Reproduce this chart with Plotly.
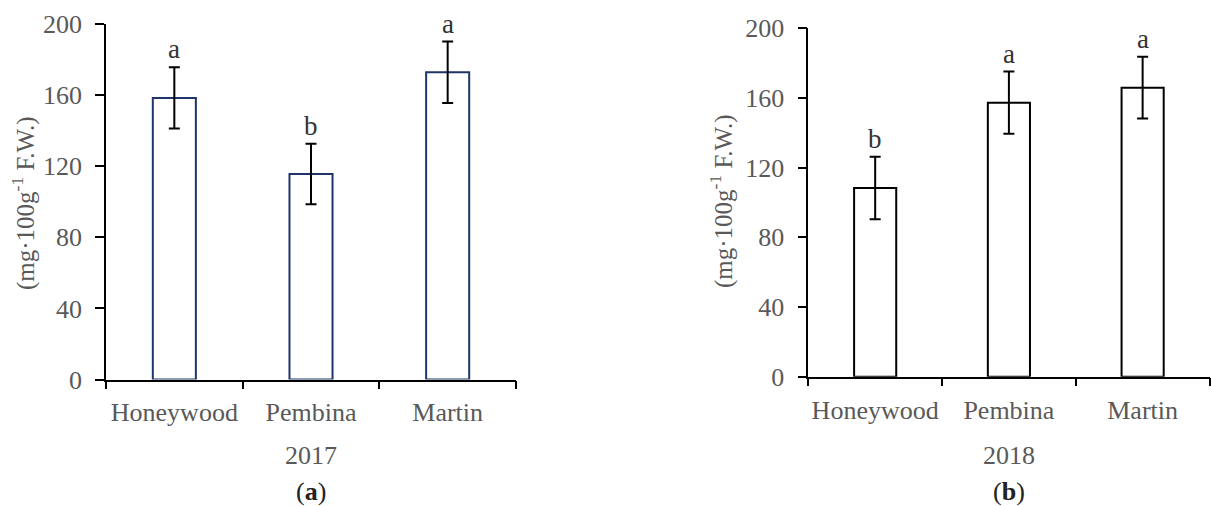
import plotly.graph_objects as go

# Fruit content by cultivar, two seasons (mean ± error)
cultivars = ["Honeywood", "Pembina", "Martin"]

means_2017 = [158.4, 115.6, 172.8]
err_2017 = [17.2, 17.0, 17.3]
letters_2017 = ["a", "b", "a"]

means_2018 = [108.3, 157.3, 165.9]
err_2018 = [17.9, 17.9, 17.7]
letters_2018 = ["b", "a", "a"]

y_ticks = [0, 40, 80, 120, 160, 200]

FONT = "Liberation Serif"
GRAY = "#595959"
W, H = 1211, 506

fig = go.Figure()

panels = [
    dict(means=means_2017, err=err_2017, letters=letters_2017, year="2017", tag="a",
         outline="#1F3468", xa="x", ya="y", xdom=[106 / W, 516 / W],
         ydom=[1 - 379.5 / H, 1 - 24 / H], title_x=23 / W, title_y=1 - 204 / H),
    dict(means=means_2018, err=err_2018, letters=letters_2018, year="2018", tag="b",
         outline="#000000", xa="x2", ya="y2", xdom=[808.3 / W, 1209.5 / W],
         ydom=[1 - 376.7 / H, 1 - 28.3 / H], title_x=721 / W, title_y=1 - 202 / H),
]

annotations = []
for i, p in enumerate(panels):
    fig.add_trace(go.Bar(
        x=cultivars, y=p["means"], width=0.315,
        marker=dict(color="white", line=dict(color=p["outline"], width=2)),
        error_y=dict(type="data", array=p["err"], visible=True,
                     color="black", thickness=2, width=5.5),
        xaxis=p["xa"], yaxis=p["ya"], showlegend=False, hoverinfo="skip",
    ))
    suffix = "" if i == 0 else "2"
    # significance letters above the error bars
    for c, m, e, l in zip(cultivars, p["means"], p["err"], p["letters"]):
        annotations.append(dict(
            x=c, y=m + e, xref="x" + suffix, yref="y" + suffix,
            text=l, showarrow=False, yanchor="bottom", yshift=1,
            font=dict(family=FONT, size=27, color="#333333"),
        ))
    xc = (p["xdom"][0] + p["xdom"][1]) / 2
    annotations.append(dict(
        x=xc, y=1 - 455 / H, xref="paper", yref="paper", text=p["year"],
        showarrow=False, font=dict(family=FONT, size=26, color=GRAY),
        xanchor="center", yanchor="middle",
    ))
    annotations.append(dict(
        x=xc, y=1 - 491 / H, xref="paper", yref="paper",
        text="(<b>%s</b>)" % p["tag"],
        showarrow=False, font=dict(family=FONT, size=26, color="#222222"),
        xanchor="center", yanchor="middle",
    ))
    annotations.append(dict(
        x=p["title_x"], y=p["title_y"],
        xref="paper", yref="paper",
        text="(mg·100g<sup>-1</sup> F.W.)", textangle=-90,
        showarrow=False, font=dict(family=FONT, size=25, color=GRAY),
        xanchor="center", yanchor="middle",
    ))

    xaxis = dict(
        domain=p["xdom"], anchor=p["ya"], type="category", automargin=False,
        range=[-0.5, 2.5], tickson="boundaries", ticks="outside",
        ticklen=8, tickwidth=1.5, tickcolor="black", tickangle=0,
        showline=True, linecolor="black", linewidth=1.5,
        showgrid=False, zeroline=False,
        tickfont=dict(family=FONT, size=26, color=GRAY),
        ticklabelstandoff=9,
    )
    yaxis = dict(
        domain=p["ydom"], anchor=p["xa"], range=[0, 200], automargin=False,
        tickvals=y_ticks, ticks="outside", ticklen=9, tickwidth=1.5,
        tickcolor="black", showline=True, linecolor="black", linewidth=1.5,
        showgrid=False, zeroline=False,
        tickfont=dict(family=FONT, size=26, color=GRAY),
        ticklabelstandoff=8,
    )
    fig.update_layout(**{"xaxis" + suffix: xaxis, "yaxis" + suffix: yaxis})

fig.update_layout(
    width=W, height=H, margin=dict(l=0, r=0, t=0, b=0),
    paper_bgcolor="white", plot_bgcolor="white",
    annotations=annotations, bargap=0.685,
)

fig.write_html("out.html")
